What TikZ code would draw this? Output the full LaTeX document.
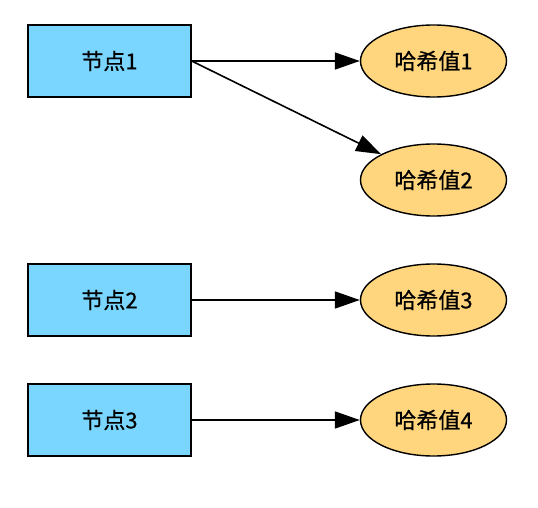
\documentclass[tikz,border=0pt]{standalone}
\usepackage{fontspec}
\setmainfont{Noto Sans CJK SC}[FakeBold=0.6,AutoFakeBold=0.6]
\usetikzlibrary{shapes.geometric,arrows.meta}
\definecolor{boxblue}{RGB}{122,214,255}
\definecolor{ellorange}{RGB}{255,213,125}
\tikzset{
  nodebox/.style={rectangle, draw=black, line width=1.4pt, fill=boxblue, minimum width=163pt, minimum height=72pt, inner sep=0pt, font=\fontsize{22}{26}\selectfont\bfseries},
  hashell/.style={ellipse, draw=black, line width=1.4pt, fill=ellorange, minimum width=146pt, minimum height=72pt, inner sep=0pt, font=\fontsize{22}{26}\selectfont\bfseries},
  conn/.style={line width=1.6pt, -{Triangle[length=25pt,width=17pt]}}
}
\begin{document}
\begin{tikzpicture}[x=1pt,y=-1pt]
\useasboundingbox (0,0) rectangle (538,508);
\node[nodebox] (n1) at (109.5,61) {节点1};
\node[nodebox] (n2) at (109.5,300) {节点2};
\node[nodebox] (n3) at (109.5,420) {节点3};
\node[hashell] (h1) at (433.5,61) {哈希值1};
\node[hashell] (h2) at (433.5,180) {哈希值2};
\node[hashell] (h3) at (433.5,300) {哈希值3};
\node[hashell] (h4) at (433.5,420) {哈希值4};
\draw[conn] (n1.east) -- (h1);
\draw[conn] (n1.east) -- (h2);
\draw[conn] (n2.east) -- (h3);
\draw[conn] (n3.east) -- (h4);
\end{tikzpicture}
\end{document}
